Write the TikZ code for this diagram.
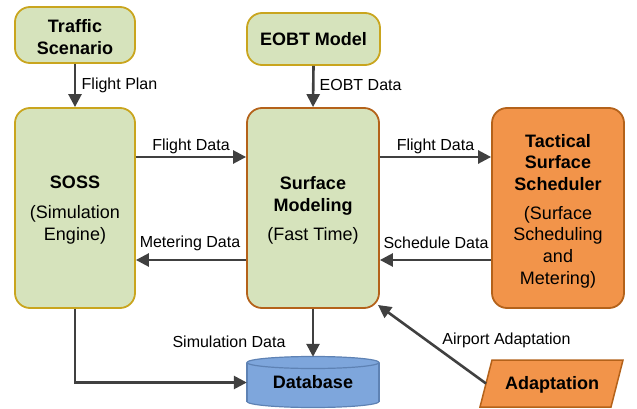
\documentclass[tikz,border=0pt]{standalone}
\usepackage{fontspec}
\setmainfont{Liberation Sans}
\usetikzlibrary{arrows.meta}
\definecolor{gfill}{HTML}{D6E3BC}
\definecolor{gdraw}{HTML}{C9A51E}
\definecolor{brdraw}{HTML}{B4621A}
\definecolor{ofill}{HTML}{F2944A}
\definecolor{odraw}{HTML}{B4621A}
\definecolor{bfill}{HTML}{7EA6DC}
\definecolor{bdraw}{HTML}{5E82B4}
\definecolor{arr}{HTML}{404040}
\begin{document}
\begin{tikzpicture}[x=1pt,y=-1pt,
  box/.style={draw=gdraw,fill=gfill,line width=1.8pt,rounded corners=15pt,inner sep=0pt},
  btxt/.style={align=center,inner sep=0pt,font=\fontsize{18}{21.7}\selectfont},
  lbl/.style={inner sep=0pt,font=\fontsize{16}{19}\selectfont},
  conn/.style={draw=arr,line width=2.6pt,-{Triangle[length=13pt,width=13pt]}}]
\useasboundingbox (0,0) rectangle (637,409);
% boxes
\node[box,minimum width=120pt,minimum height=56pt] (traffic) at (75,35) {};
\node[btxt] (trafficT) at (75,37) {\textbf{Traffic}\\\textbf{Scenario}};
\node[box,minimum width=133pt,minimum height=52pt] (eobt) at (313.5,39) {};
\node[btxt] (eobtT) at (313.5,39.5) {\textbf{EOBT Model}};
\node[box,minimum width=120pt,minimum height=200pt] (soss) at (75,208) {};
\node[btxt] (sossT) at (75,210) {\textbf{SOSS}\\[8pt](Simulation\\Engine)};
\node[box,draw=brdraw,minimum width=132pt,minimum height=200pt] (surf) at (313,208) {};
\node[btxt] (surfT) at (313,210.5) {\textbf{Surface}\\\textbf{Modeling}\\[7pt](Fast Time)};
\node[box,draw=odraw,fill=ofill,minimum width=132pt,minimum height=200pt] (tss) at (558,208) {};
\node[btxt] (tssT) at (558,211) {\textbf{Tactical}\\\textbf{Surface}\\\textbf{Scheduler}\\[7pt](Surface\\Scheduling\\and\\Metering)};
% database cylinder
\filldraw[fill=bfill,draw=bdraw,line width=1.2pt] (313,401.5) ellipse [x radius=66pt,y radius=6pt];
\fill[bfill] (247,362.5) rectangle (379,401.5);
\draw[bdraw,line width=1.2pt] (247,362.5) -- (247,401.5) (379,362.5) -- (379,401.5);
\filldraw[fill=bfill,draw=bdraw,line width=1.2pt] (313,362.5) ellipse [x radius=66pt,y radius=6pt];
\node[inner sep=0pt,minimum width=132pt,minimum height=51pt,font=\fontsize{18}{21.7}\selectfont\bfseries] (db) at (313,382.5) {Database};
% adaptation parallelogram
\filldraw[fill=ofill,draw=odraw,line width=1.5pt] (480,407) -- (492,360) -- (623,360) -- (611,407) -- cycle;
\node[inner sep=0pt,font=\fontsize{18}{21.7}\selectfont\bfseries] (adapt) at (552,384.5) {Adaptation};
\coordinate (adaptL) at (486,383.5);
\coordinate (surfC) at (378,305);
% connectors
\draw[conn] (traffic.south) -- (soss.north);
\draw[conn] (eobt.south) -- (surf.north);
\draw[conn] ([yshift=51pt]soss.east) -- ([yshift=51pt]surf.west);
\draw[conn] ([yshift=51pt]surf.east) -- ([yshift=51pt]tss.west);
\draw[conn] ([yshift=-52pt]surf.west) -- ([yshift=-52pt]soss.east);
\draw[conn] ([yshift=-52pt]tss.west) -- ([yshift=-52pt]surf.east);
\draw[conn] (surf.south) -- (db.north);
\draw[conn] (soss.south) |- (db.west);
\draw[conn] (adaptL) -- (surfC);
% labels
\node[lbl,anchor=west] (lfp) at (81.5,85) {Flight Plan};
\node[lbl,anchor=west] (leobt) at (319.5,85) {EOBT Data};
\node[lbl] (lfd1) at (191,146) {Flight Data};
\node[lbl] (lfd2) at (435.5,146) {Flight Data};
\node[lbl] (lmd) at (190,243) {Metering Data};
\node[lbl] (lsd) at (436,243) {Schedule Data};
\node[lbl] (lsim) at (229,342) {Simulation Data};
\node[lbl] (lap) at (506.5,340) {Airport Adaptation};
\end{tikzpicture}
\end{document}
